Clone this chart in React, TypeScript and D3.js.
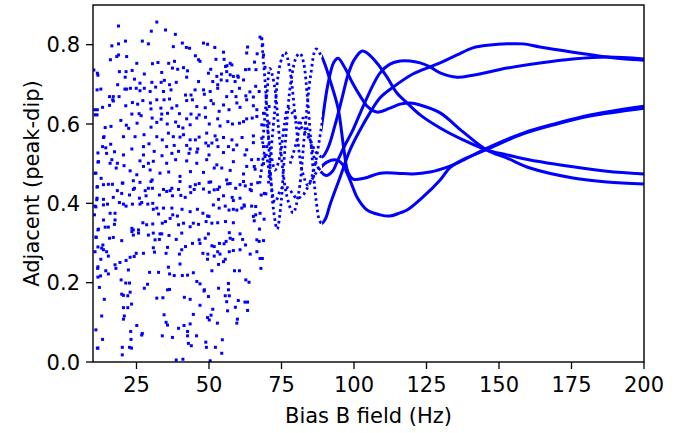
import React from "react";
import * as d3 from "d3";

type P = [number, number];

const xTicks = [25, 50, 75, 100, 125, 150, 175, 200];
const yTicks = [0, 0.2, 0.4, 0.6, 0.8];
const xLabel = "Bias B field (Hz)";
const yLabel = "Adjacent (peak-dip)";

// six traces (x in Hz, y in peak-dip units)
const curve1: P[] = [[68.3,0.80],[69.6,0.68],[71.0,0.50],[72.3,0.38],[73.5,0.335],[74.7,0.39],[76.3,0.55],[78.3,0.71],[80.2,0.77],[81.4,0.778],[82.6,0.755],[83.9,0.67],[85.4,0.53],[86.9,0.41],[88.2,0.355],[89.0,0.350],[90.3,0.363],[91.7,0.396],[95.2,0.466],[98.6,0.534],[102.1,0.585],[105.5,0.628],[109.0,0.666],[113.5,0.693],[120.3,0.726],[126.2,0.744],[129.7,0.754],[135.5,0.774],[141.0,0.792],[146.9,0.799],[152.8,0.802],[158.3,0.802],[164.1,0.794],[175.5,0.781],[187.2,0.769],[193.5,0.764],[200,0.761]];
const curve2: P[] = [[70.0,0.60],[71.5,0.52],[72.8,0.484],[74.5,0.52],[76.0,0.60],[77.2,0.64],[78.5,0.63],[81.4,0.597],[84.8,0.56],[86.9,0.529],[89.0,0.517],[91.0,0.539],[93.45,0.597],[95.9,0.666],[97.9,0.723],[100.0,0.761],[102.8,0.784],[104.5,0.779],[107.9,0.754],[111.4,0.718],[114.8,0.678],[118.3,0.653],[122.8,0.623],[129.7,0.590],[137.6,0.560],[145.9,0.534],[152.8,0.522],[160.7,0.509],[175.5,0.492],[187.2,0.481],[200,0.474]];
const curve3: P[] = [[67.5,0.45],[69.3,0.53],[71.0,0.47],[72.8,0.403],[75.2,0.439],[77.2,0.439],[80.3,0.413],[82.4,0.421],[84.8,0.451],[87.2,0.479],[90.7,0.504],[94.1,0.509],[96.2,0.497],[97.6,0.476],[99.3,0.446],[101.0,0.416],[104.5,0.383],[109.0,0.371],[112.4,0.368],[115.9,0.376],[118.3,0.383],[123.8,0.416],[129.7,0.459],[133.1,0.490],[137.6,0.510],[145.9,0.536],[158.3,0.575],[170.0,0.600],[181.4,0.620],[200,0.640]];
const curve4: P[] = [[68.5,0.55],[70.0,0.68],[71.0,0.74],[72.5,0.70],[74.5,0.55],[76.8,0.42],[79.0,0.376],[81.0,0.43],[83.0,0.58],[85.0,0.72],[86.9,0.789],[88.5,0.775],[90.0,0.75],[91.7,0.711],[94.5,0.640],[96.55,0.534],[97.9,0.479],[99.7,0.461],[103.8,0.464],[109.0,0.476],[114.8,0.476],[120.3,0.474],[126.2,0.479],[133.1,0.494],[136.6,0.505],[145.9,0.539],[158.3,0.577],[170.0,0.602],[181.4,0.623],[200,0.645]];
const curve5: P[] = [[70.5,0.45],[72.5,0.62],[74.5,0.75],[76.2,0.781],[77.8,0.74],[80.0,0.60],[82.2,0.48],[84.1,0.446],[86.0,0.48],[88.5,0.58],[91.0,0.70],[93.0,0.755],[94.5,0.766],[96.9,0.741],[99.3,0.706],[102.1,0.671],[104.8,0.643],[107.9,0.630],[112.4,0.640],[115.9,0.650],[119.3,0.653],[122.8,0.648],[129.7,0.628],[137.6,0.580],[145.9,0.534],[152.8,0.514],[160.7,0.489],[175.5,0.464],[187.2,0.454],[200,0.449]];
const curve6: P[] = [[78.0,0.50],[80.0,0.55],[82.4,0.615],[84.5,0.57],[86.5,0.51],[88.5,0.48],[90.5,0.47],[92.5,0.48],[94.5,0.51],[96.9,0.547],[99.3,0.58],[101.4,0.615],[103.8,0.655],[106.55,0.698],[109.0,0.729],[112.4,0.751],[115.9,0.759],[119.3,0.759],[122.8,0.754],[126.2,0.744],[129.7,0.729],[135.5,0.718],[141.0,0.723],[152.8,0.741],[164.1,0.754],[175.5,0.764],[187.2,0.769],[200,0.764]];

// scattered (aliased) samples at low field
const scatterHigh: P[] = [[18.8,0.847],[32.0,0.857],[30.1,0.834],[35.0,0.837],[38.4,0.826],[21.2,0.809],[27.0,0.809],[29.1,0.802],[16.5,0.797],[18.8,0.802],[37.7,0.795],[40.8,0.804],[42.2,0.793],[43.3,0.791],[48.1,0.804],[49.5,0.801],[52.0,0.793],[63.3,0.794],[67.6,0.819],[68.2,0.815],[68.5,0.800],[66.6,0.777],[63.0,0.779],
[18.8,0.774],[21.6,0.770],[18.2,0.770],[16.0,0.762],[25.1,0.753],[30.5,0.752],[32.4,0.755],[36.1,0.753],[38.1,0.758],[45.3,0.772],[46.4,0.762],[46.9,0.758],[52.4,0.763],[55.0,0.781],[55.2,0.763],[57.3,0.753],[57.9,0.749],[68.8,0.774],[65.7,0.756],[69.3,0.743],[55.7,0.745],[56.2,0.747],
[11.5,0.728],[19.1,0.732],[21.4,0.732],[23.5,0.735],[27.7,0.726],[33.7,0.730],[37.4,0.741],[39.2,0.738],[41.2,0.742],[42.6,0.734],[49.8,0.728],[50.6,0.738],[52.7,0.720],[54.3,0.726],[56.1,0.732],[58.4,0.720],[59.9,0.721],[61.9,0.711],[62.6,0.737],[63.8,0.738],[66.2,0.737],[24.3,0.713],[21.1,0.718],[26.2,0.703],[30.3,0.705],[33.5,0.705],[34.6,0.710],[36.4,0.699],[38.7,0.705],[42.3,0.718],[46.4,0.707],[51.3,0.707],[53.0,0.699],[54.2,0.711],[56.2,0.709],[57.3,0.724],[59.0,0.707],[60.1,0.718],
[12.7,0.688],[18.5,0.699],[21.0,0.688],[21.6,0.688],[22.9,0.690],[24.9,0.690],[26.2,0.684],[27.7,0.690],[29.7,0.682],[31.6,0.693],[34.3,0.682],[36.9,0.686],[41.9,0.673],[43.8,0.673],[45.2,0.686],[48.1,0.686],[48.4,0.675],[50.4,0.682],[53.0,0.690],[56.1,0.669],[57.9,0.682],[59.3,0.669],[60.5,0.690],[62.7,0.671],[64.1,0.681],[65.3,0.668],[66.1,0.695],[67.3,0.682],[69.7,0.671],[17.0,0.669],[19.0,0.669],[15.7,0.669],
[16.8,0.661],[11.5,0.636],[13.3,0.642],[15.7,0.647],[17.0,0.658],[21.3,0.646],[23.6,0.654],[25.4,0.650],[27.2,0.659],[29.8,0.653],[30.0,0.638],[32.0,0.661],[33.4,0.640],[34.5,0.661],[36.4,0.663],[37.2,0.640],[38.9,0.646],[42.3,0.659],[44.3,0.661],[45.8,0.644],[48.7,0.641],[50.7,0.659],[51.5,0.651],[53.5,0.632],[55.0,0.648],[56.9,0.636],[59.6,0.653],[60.7,0.642],[63.0,0.661],[65.3,0.646],[66.5,0.636],[68.8,0.627],[70.7,0.644],[25.9,0.626],[26.6,0.621],[23.4,0.625],[33.7,0.625],[35.7,0.627],[39.8,0.626],[43.8,0.625],[46.6,0.623],
[10.6,0.636],[11.4,0.623],[19.6,0.609],[25.2,0.602],[30.0,0.592],[30.4,0.615],[33.5,0.612],[32.0,0.604],[35.6,0.600],[38.5,0.605],[39.5,0.594],[41.0,0.590],[42.3,0.613],[43.5,0.598],[45.8,0.615],[48.8,0.617],[50.1,0.600],[53.0,0.613],[53.8,0.595],[56.5,0.606],[58.1,0.600],[60.5,0.602],[61.9,0.606],[63.0,0.613],[64.9,0.615],[66.5,0.619],[68.2,0.598],[70.7,0.602],[14.2,0.591],[16.2,0.594],[21.5,0.597],[22.3,0.589]];

const scatterMid: P[] = [[13.8,0.568],[13.6,0.566],[20.5,0.568],[24.5,0.568],[27.6,0.573],[32.0,0.568],[33.9,0.560],[36.0,0.577],[37.7,0.568],[40.0,0.567],[41.2,0.573],[43.5,0.560],[45.3,0.560],[46.6,0.567],[49.2,0.577],[52.1,0.570],[52.7,0.560],[55.0,0.566],[57.9,0.560],[61.4,0.566],[65.3,0.570],[68.2,0.564],[13.3,0.543],[14.4,0.540],[16.1,0.549],[23.4,0.537],[27.4,0.543],[29.3,0.550],[35.4,0.543],[38.0,0.546],[42.3,0.546],[43.5,0.537],[46.1,0.537],[48.9,0.552],[49.8,0.545],[51.0,0.552],[53.1,0.543],[56.7,0.543],[59.6,0.547],[63.0,0.535],[65.3,0.553],[68.8,0.543],[69.9,0.543],
[14.7,0.526],[17.4,0.530],[20.5,0.522],[27.4,0.522],[31.1,0.531],[33.8,0.520],[37.2,0.526],[39.5,0.531],[43.1,0.526],[45.8,0.529],[50.0,0.522],[55.0,0.528],[58.4,0.535],[62.4,0.522],[64.7,0.510],[67.0,0.511],[69.3,0.518],[11.9,0.505],[15.9,0.501],[16.5,0.510],[18.4,0.501],[26.2,0.507],[29.1,0.501],[30.8,0.506],[35.4,0.501],[38.5,0.510],[42.3,0.507],[45.8,0.501],[49.2,0.510],[52.7,0.497],[58.4,0.505],[63.0,0.493],[65.6,0.493],[68.8,0.500],
[18.0,0.489],[20.7,0.495],[22.8,0.482],[25.1,0.472],[27.4,0.493],[29.7,0.484],[33.1,0.476],[36.1,0.479],[40.0,0.468],[43.6,0.480],[48.1,0.478],[51.8,0.489],[54.4,0.489],[57.3,0.483],[61.9,0.474],[65.9,0.486],[10.7,0.476],[12.8,0.463],[13.6,0.447],[15.3,0.448],[16.7,0.448],[20.1,0.451],[23.9,0.457],[26.2,0.453],[30.4,0.459],[40.0,0.455],[43.5,0.442],[50.0,0.453],[56.1,0.459],[56.4,0.449],[60.7,0.447],[61.9,0.455],[66.8,0.452],[71.1,0.472],[11.5,0.442],[24.3,0.438],[29.1,0.438],[37.2,0.438],[48.1,0.436],[20.3,0.451],[30.0,0.455],[45.3,0.447],[46.6,0.450],[50.6,0.454],[53.6,0.441],[57.3,0.450],[62.5,0.444],[64.6,0.448]];

const scatterLow: P[] = [[34.3,0.435],[36.6,0.432],[39.5,0.435],[53.0,0.435],[64.2,0.435],[69.1,0.425],[11.3,0.409],[13.6,0.410],[17.0,0.415],[18.4,0.432],[19.9,0.425],[22.6,0.421],[23.9,0.435],[26.0,0.413],[28.0,0.432],[28.3,0.419],[30.5,0.438],[32.9,0.421],[35.4,0.430],[37.4,0.419],[40.3,0.420],[41.8,0.415],[43.7,0.427],[44.9,0.435],[50.1,0.428],[51.8,0.434],[53.3,0.410],[55.0,0.419],[58.0,0.415],[58.4,0.407],[59.2,0.438],[60.7,0.413],[62.2,0.393],[64.6,0.432],[66.1,0.392],[68.0,0.421],[69.6,0.424],
[10.7,0.393],[13.6,0.396],[15.0,0.398],[15.9,0.375],[17.6,0.375],[19.1,0.402],[20.5,0.398],[21.4,0.393],[23.6,0.398],[26.2,0.398],[26.8,0.402],[28.9,0.398],[30.6,0.400],[30.8,0.385],[32.0,0.388],[32.6,0.373],[34.3,0.388],[37.2,0.388],[37.5,0.371],[39.1,0.368],[40.7,0.385],[43.5,0.379],[46.0,0.385],[47.9,0.375],[49.5,0.368],[50.0,0.367],[51.5,0.396],[53.5,0.388],[55.6,0.393],[56.9,0.383],[58.4,0.385],[59.6,0.383],[61.3,0.388],[62.1,0.396],[64.7,0.393],[65.3,0.367],[66.1,0.371],[67.6,0.375],[69.0,0.360],[10.5,0.371],[13.6,0.358],[17.6,0.358],[17.4,0.347],[23.4,0.337],[23.9,0.333],[25.7,0.333],[27.2,0.351],[28.5,0.346],[30.6,0.348],[33.9,0.350],[35.0,0.354],[36.6,0.362],[39.5,0.346],[41.2,0.350],[43.5,0.341],[44.6,0.350],[46.4,0.347],[49.0,0.354],[51.0,0.350],[53.0,0.351],[55.7,0.354],[58.4,0.351],[65.6,0.356],[67.4,0.335],
[11.9,0.335],[14.2,0.340],[15.3,0.340],[11.1,0.314],[13.4,0.295],[13.6,0.283],[14.7,0.278],[15.7,0.312],[17.0,0.314],[19.9,0.306],[23.4,0.329],[23.9,0.320],[25.7,0.325],[29.1,0.320],[30.8,0.325],[31.4,0.308],[33.1,0.323],[33.7,0.323],[32.9,0.309],[36.2,0.319],[38.7,0.309],[40.6,0.325],[44.3,0.299],[46.6,0.308],[46.9,0.299],[48.7,0.312],[49.8,0.323],[51.0,0.293],[51.8,0.291],[53.6,0.299],[55.2,0.298],[55.9,0.304],[57.0,0.326],[57.3,0.312],[58.2,0.309],[60.7,0.323],[61.6,0.309],[66.5,0.308],[67.3,0.304],[68.8,0.306],[10.7,0.278],[13.0,0.287],[15.3,0.267],[17.6,0.245],[19.3,0.251],[21.4,0.256],[22.8,0.264],[24.2,0.266],[24.9,0.274],[27.4,0.274],[30.8,0.288],[31.2,0.277],[35.7,0.289],[35.2,0.274],[39.8,0.272],[40.6,0.283],[41.9,0.291],[47.9,0.274],[49.6,0.272],[51.8,0.267],[53.0,0.278],[53.8,0.272],[55.6,0.259],[57.0,0.278],[58.4,0.281],[60.7,0.283],[62.6,0.295],[64.2,0.272],[66.5,0.278],[67.6,0.261],[68.4,0.261],
[12.7,0.259],[11.6,0.236],[14.4,0.230],[15.3,0.222],[17.9,0.236],[22.2,0.232],[29.5,0.226],[32.6,0.226],[36.0,0.239],[36.4,0.222],[38.0,0.218],[40.0,0.247],[40.8,0.218],[42.6,0.219],[44.6,0.225],[45.8,0.203],[46.9,0.197],[48.4,0.182],[49.5,0.259],[51.0,0.230],[53.3,0.246],[55.0,0.253],[56.7,0.198],[58.8,0.230],[60.5,0.230],[62.7,0.207],[63.8,0.201],[67.9,0.236],[12.6,0.217],[12.2,0.188],[19.7,0.207],[21.3,0.199],[22.6,0.199],[22.8,0.176],[27.7,0.186],[28.8,0.196]];

const scatterBottom: P[] = [[13.9,0.158],[19.9,0.171],[20.5,0.168],[22.0,0.167],[22.0,0.137],[23.3,0.146],[35.7,0.182],[36.4,0.183],[32.0,0.161],[34.1,0.162],[41.5,0.163],[43.5,0.158],[46.9,0.143],[48.3,0.179],[49.8,0.165],[53.3,0.186],[55.6,0.167],[56.7,0.182],[57.0,0.167],[56.1,0.152],[60.1,0.155],[63.3,0.151],[62.4,0.151],[63.3,0.130],[59.1,0.138],[56.4,0.129],[51.3,0.133],[20.5,0.137],[13.0,0.116],[20.8,0.116],[20.5,0.108],[25.1,0.092],[27.0,0.072],[34.5,0.119],[35.2,0.100],[35.7,0.093],[39.5,0.085],[41.4,0.092],[43.5,0.096],[44.6,0.120],[49.5,0.112],[50.1,0.106],[50.7,0.118],[52.9,0.098],[59.8,0.108],[59.6,0.098],
[23.0,0.077],[26.8,0.068],[33.9,0.066],[37.4,0.062],[42.6,0.077],[42.6,0.066],[45.7,0.066],[13.3,0.057],[23.1,0.057],[42.9,0.047],[43.9,0.041],[48.9,0.050],[49.1,0.037],[52.2,0.037],[54.6,0.056],[54.4,0.022],[11.5,0.035],[20.1,0.037],[22.6,0.037],[23.3,0.035],[20.1,0.018],[38.7,0.005],[41.0,0.007],[50.4,0.003]];

const scatterEdge: P[] = [[10.3,0.736],[11.7,0.723],[11.4,0.686],[10.7,0.623],[11.7,0.527],[11.7,0.504],[11.0,0.476],[11.4,0.441],[11.4,0.413],[11.0,0.391],[11.7,0.333],[11.0,0.315],[11.7,0.290],[11.7,0.240],[11.7,0.214],[11.0,0.081],[11.7,0.035]];

const W = 685, H = 433;
const L = 93, R = 644, T = 5, B = 362;
const SPLIT = 89;
const BLUE = "#0000ff";
const FONT = "'DejaVu Sans', sans-serif";
const FS = 21;

export default function App() {
  const x = d3.scaleLinear().domain([10, 200]).range([L, R]);
  const y = d3.scaleLinear().domain([0, 0.9]).range([B, T]);
  const line = d3.line<P>().x(d => x(d[0])).y(d => y(d[1])).curve(d3.curveCatmullRom.alpha(0.5));
  const curves = [curve1, curve2, curve3, curve4, curve5, curve6];
  const dots = [...scatterHigh, ...scatterMid, ...scatterLow, ...scatterBottom, ...scatterEdge];
  const xs = x(SPLIT);
  const ds = 3;
  return (
    <svg width={W} height={H} style={{ position: "absolute", left: 0, top: 0 }} fontFamily={FONT}>
      <defs>
        <clipPath id="cDot"><rect x={L} y={T} width={xs - L} height={B - T} /></clipPath>
        <clipPath id="cSolid"><rect x={xs} y={T} width={R - xs} height={B - T} /></clipPath>
        <clipPath id="cPlot"><rect x={L} y={T} width={R - L} height={B - T} /></clipPath>
      </defs>
      <rect width={W} height={H} fill="#fff" />
      <g clipPath="url(#cPlot)">
        {dots.map((d, i) => (
          <rect key={i} x={x(d[0]) - ds / 2} y={y(d[1]) - ds / 2} width={ds} height={ds} fill={BLUE} />
        ))}
      </g>
      <g clipPath="url(#cDot)">
        {curves.map((c, i) => (
          <path key={i} d={line(c) || ""} fill="none" stroke={BLUE} strokeWidth={2.8} strokeDasharray="2.6 3.2" />
        ))}
      </g>
      <g clipPath="url(#cSolid)">
        {curves.map((c, i) => (
          <path key={i} d={line(c) || ""} fill="none" stroke={BLUE} strokeWidth={3} />
        ))}
      </g>
      <rect x={L} y={T} width={R - L} height={B - T} fill="none" stroke="#000" strokeWidth={1.4} />
      {xTicks.map(t => (
        <g key={"x" + t}>
          <line x1={x(t)} x2={x(t)} y1={B} y2={B + 7} stroke="#000" strokeWidth={1.3} />
          <text x={x(t)} y={B + 30} textAnchor="middle" fontSize={FS} fill="#000">{t}</text>
        </g>
      ))}
      {yTicks.map(t => (
        <g key={"y" + t}>
          <line x1={L - 7} x2={L} y1={y(t)} y2={y(t)} stroke="#000" strokeWidth={1.3} />
          <text x={L - 13} y={y(t)} dy="0.36em" textAnchor="end" fontSize={FS} fill="#000">{t.toFixed(1)}</text>
        </g>
      ))}
      <text x={(L + R) / 2} y={423} textAnchor="middle" fontSize={FS} fill="#000">{xLabel}</text>
      <text transform={`translate(39,${(T + B) / 2}) rotate(-90)`} textAnchor="middle" fontSize={FS} fill="#000">{yLabel}</text>
    </svg>
  );
}
